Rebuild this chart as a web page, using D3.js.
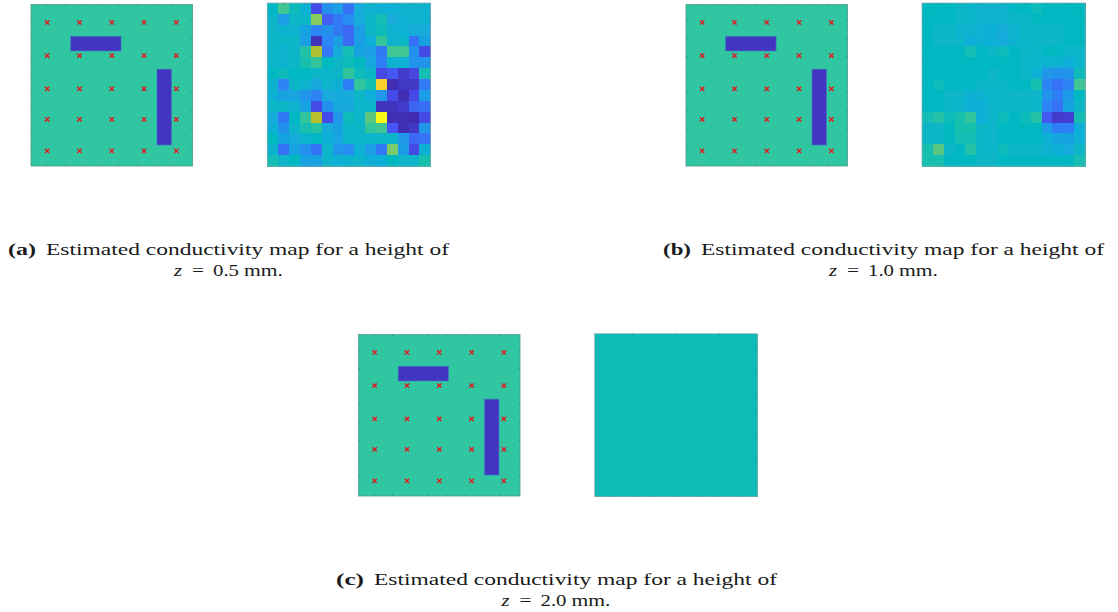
<!DOCTYPE html>
<html><head><meta charset="utf-8">
<script src="https://cdn.jsdelivr.net/npm/d3@7"></script>
<style>html,body{margin:0;padding:0;background:#fff}svg{display:block}text{font-family:"Liberation Serif",serif;fill:#1a1a1a}</style>
</head><body><svg id="c" width="1118" height="612"></svg>
<script>
const parulaDomain = [0,.125,.25,.375,.44,.5,.625,.75,.875,1];
const parulaStops = ["#3e26a8","#4752f4","#2b87f5","#0fb0d6","#03b9c0","#30c59c","#8ccb5c","#b2c02e","#fdc52f","#f9fb15"];
const sensorX = [10,28,46,64,82];
const sensorY = [11,29.5,48,65,82.6];
const barsX0 = [23.1,71.2];
const barsX1 = [51.2,79.3];
const barsY0 = [18.7,37];
const barsY1 = [26.9,79.3];
const mapA = [
[.43,.52,.45,.38,.10,.28,.32,.20,.36,.40,.38,.38,.40,.40,.40],
[.42,.32,.42,.42,.62,.16,.22,.27,.36,.42,.46,.36,.38,.40,.40],
[.42,.40,.39,.33,.24,.28,.22,.18,.32,.42,.45,.40,.38,.36,.36],
[.42,.42,.42,.32,.03,.25,.32,.18,.32,.37,.50,.40,.42,.20,.33],
[.41,.39,.42,.48,.74,.22,.36,.46,.33,.32,.22,.52,.52,.28,.10],
[.41,.40,.42,.47,.50,.43,.42,.45,.44,.35,.23,.40,.38,.29,.29],
[.43,.45,.43,.44,.42,.41,.42,.50,.45,.42,.10,.14,.06,.09,.46],
[.40,.24,.42,.40,.35,.41,.37,.23,.50,.47,.90,.02,.05,.05,.22],
[.38,.33,.34,.29,.24,.36,.36,.36,.42,.37,.30,.10,.02,.10,.32],
[.42,.42,.40,.33,.10,.28,.35,.35,.41,.41,.03,.03,.06,.17,.19],
[.36,.22,.43,.50,.76,.10,.30,.45,.41,.56,1.0,.02,.02,.01,.10],
[.38,.28,.42,.47,.49,.36,.33,.41,.42,.50,.52,.13,.02,.05,.30],
[.44,.33,.36,.40,.43,.37,.34,.41,.41,.41,.42,.41,.30,.18,.20],
[.40,.20,.33,.28,.20,.41,.30,.27,.38,.32,.22,.60,.31,.10,.38],
[.46,.41,.44,.33,.33,.41,.38,.40,.41,.37,.37,.44,.41,.41,.47]];
const mapB = [
[.44,.44,.44,.42,.41,.40,.40,.40,.43,.43,.45,.43,.43,.44,.44],
[.44,.43,.43,.42,.41,.40,.40,.40,.42,.42,.44,.43,.43,.43,.44],
[.43,.42,.42,.40,.39,.38,.37,.36,.40,.42,.42,.42,.42,.43,.44],
[.43,.42,.42,.41,.37,.38,.37,.36,.40,.41,.42,.42,.42,.43,.44],
[.44,.43,.43,.44,.46,.43,.42,.45,.43,.42,.41,.44,.44,.41,.41],
[.43,.43,.43,.44,.44,.43,.43,.44,.43,.41,.41,.39,.39,.37,.41],
[.43,.43,.43,.43,.43,.43,.42,.43,.43,.42,.38,.30,.28,.29,.45],
[.43,.45,.43,.43,.43,.42,.42,.42,.43,.43,.47,.24,.20,.24,.52],
[.43,.43,.42,.41,.38,.40,.41,.42,.42,.42,.41,.29,.23,.31,.44],
[.43,.43,.42,.41,.37,.37,.41,.42,.42,.42,.41,.24,.20,.33,.42],
[.46,.48,.45,.47,.50,.37,.41,.45,.43,.45,.48,.14,.06,.07,.46],
[.42,.42,.44,.47,.47,.42,.41,.43,.43,.44,.44,.31,.23,.23,.37],
[.42,.42,.44,.46,.46,.42,.41,.43,.43,.43,.43,.38,.34,.33,.38],
[.47,.55,.42,.43,.48,.42,.41,.45,.42,.42,.42,.40,.37,.36,.42],
[.47,.47,.43,.43,.44,.42,.42,.43,.43,.43,.43,.43,.43,.43,.46]];
const mapC = d3.range(15).map(()=>d3.range(15).map(()=>.455));
const captionTags = ["(a)","(b)","(c)"];
const captionLine1 = "Estimated conductivity map for a height of";
const heights = ["0.5","1.0","2.0"];
const maps = [mapA,mapB,mapC];
const layout = [
 {sx:31,sy:4.5,hx:267.3,hy:3,cx:228.5,cy:255,tx:8},
 {sx:686,sy:4.5,hx:922,hy:3,cx:883.5,cy:255,tx:663},
 {sx:358.5,sy:334.5,hx:594.5,hy:333.5,cx:556,cy:585,tx:336}];
const schemeSize = 161.5, heatSize = 163;
const svg = d3.select("#c");
const defs = svg.append("defs");
defs.append("filter").attr("id","soft").attr("x","-5%").attr("y","-5%").attr("width","110%").attr("height","110%")
  .append("feGaussianBlur").attr("stdDeviation",.45);
const color = d3.scaleLinear().domain(parulaDomain).range(parulaStops).interpolate(d3.interpolateRgb);
function ticksIn(g,x,y,vals,len,col){
  const s=g.append("g").attr("stroke",col).attr("stroke-width",.7);
  vals.forEach(v=>{
    s.append("line").attr("x1",x(v)).attr("x2",x(v)).attr("y1",y.range()[0]).attr("y2",y.range()[0]+len);
    s.append("line").attr("x1",x(v)).attr("x2",x(v)).attr("y1",y.range()[1]).attr("y2",y.range()[1]-len);
    s.append("line").attr("y1",y(v)).attr("y2",y(v)).attr("x1",x.range()[0]).attr("x2",x.range()[0]+len);
    s.append("line").attr("y1",y(v)).attr("y2",y(v)).attr("x1",x.range()[1]).attr("x2",x.range()[1]-len);
  });
}
function label(parent,x,y,str,len,extra={}){
  const t=parent.append("text").attr("x",x).attr("y",y).attr("font-size",extra.size||17.5).text(str)
    .attr("textLength",len).attr("lengthAdjust","spacingAndGlyphs");
  if(extra.bold) t.attr("font-weight","bold");
  if(extra.italic) t.attr("font-style","italic");
  return t;
}
layout.forEach((p,k)=>{
  const x=d3.scaleLinear().domain([1,91]).range([p.sx,p.sx+schemeSize]);
  const y=d3.scaleLinear().domain([1,91]).range([p.sy,p.sy+schemeSize]);
  const g=svg.append("g");
  g.append("rect").attr("x",p.sx).attr("y",p.sy).attr("width",schemeSize).attr("height",schemeSize).attr("fill","#31c6a2");
  g.selectAll(".bar").data(barsX0).join("rect").attr("x",d=>x(d))
    .attr("y",(d,i)=>y(barsY0[i])).attr("width",(d,i)=>x(barsX1[i])-x(d)).attr("height",(d,i)=>y(barsY1[i])-y(barsY0[i]))
    .attr("fill","#4235c2").attr("stroke","#3f7fc0").attr("stroke-width",.6);
  const sym=d3.symbol().type(d3.symbolX).size(14);
  sensorY.forEach(sy=>sensorX.forEach(sx=>{
    g.append("path").attr("d",sym()).attr("transform",`translate(${x(sx)},${y(sy)})`).attr("stroke","#e8141c").attr("stroke-width",1.3).attr("fill","none");
  }));
  ticksIn(g,x,y,d3.range(10,81,10),1.6,"#2a7d6a");
  g.append("rect").attr("x",p.sx).attr("y",p.sy).attr("width",schemeSize).attr("height",schemeSize).attr("fill","none").attr("stroke","#4c9a88").attr("stroke-width",.8);

  const hx=d3.scaleBand().domain(d3.range(15)).range([p.hx,p.hx+heatSize]);
  const hy=d3.scaleBand().domain(d3.range(15)).range([p.hy,p.hy+heatSize]);
  const h=svg.append("g");
  const cells=h.append("g").attr("filter","url(#soft)").attr("shape-rendering","crispEdges");
  maps[k].forEach((row,r)=>{
    cells.selectAll(null).data(row).join("rect").attr("x",(d,c)=>hx(c)).attr("y",hy(r))
     .attr("width",hx.bandwidth()+.6).attr("height",hy.bandwidth()+.6).attr("fill",d=>color(d));
  });
  const tx=d3.scaleLinear().domain([.5,15.5]).range([p.hx,p.hx+heatSize]);
  const ty=d3.scaleLinear().domain([.5,15.5]).range([p.hy,p.hy+heatSize]);
  ticksIn(h,tx,ty,d3.range(2,15,2),1.6,"#2a7d8a");
  h.append("rect").attr("x",p.hx).attr("y",p.hy).attr("width",heatSize).attr("height",heatSize).attr("fill","none").attr("stroke","#8aa8a8").attr("stroke-width",.7);

  label(svg,p.tx,p.cy,captionTags[k],28,{bold:true});
  label(svg,p.tx+38,p.cy,captionLine1,403);
  label(svg,p.cx-54.5,p.cy+21,"z",8,{italic:true});
  label(svg,p.cx-36.5,p.cy+21,"=",12);
  label(svg,p.cx-15.5,p.cy+21,heights[k],26);
  label(svg,p.cx+15.5,p.cy+21,"mm.",39);
});
</script></body></html>
